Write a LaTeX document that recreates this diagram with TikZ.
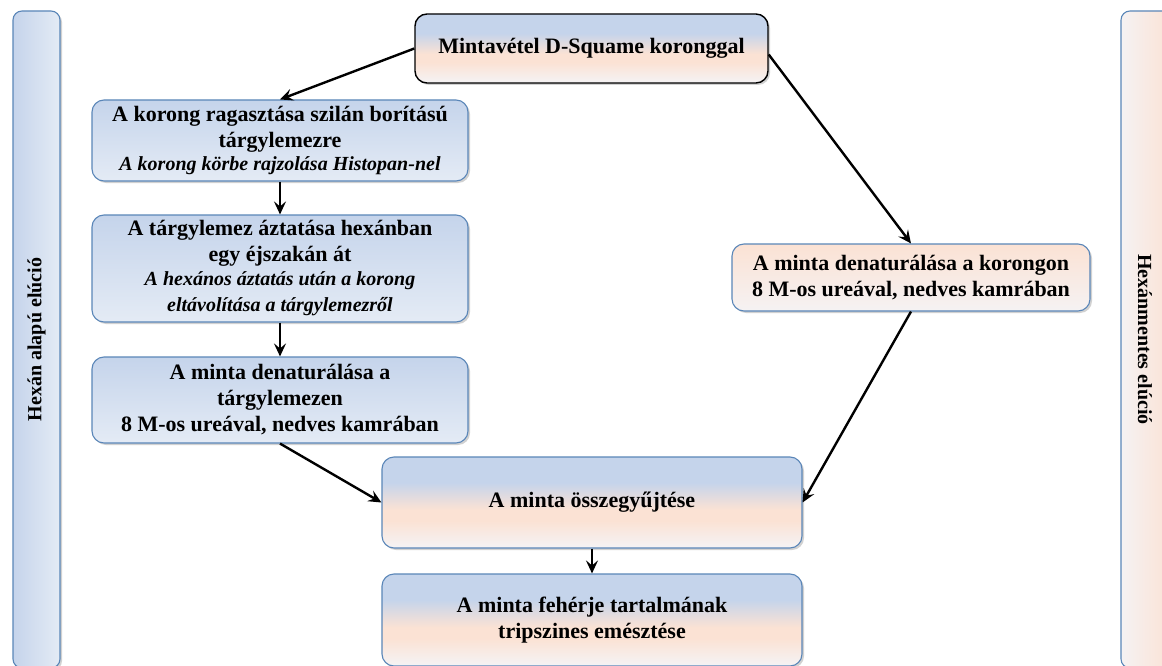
\documentclass[tikz,border=0pt]{standalone}
\usepackage{fontspec}
\setmainfont{Liberation Serif}
\usetikzlibrary{arrows.meta,shadows}
\definecolor{blu}{HTML}{C5D4EB}
\definecolor{blul}{HTML}{E4EBF5}
\definecolor{pch}{HTML}{FBE2D4}
\definecolor{wht}{HTML}{F5F2F3}
\definecolor{bord}{HTML}{5A86B8}
\newcommand\itl{\fontsize{20}{23}\selectfont\itshape}
\pgfdeclareverticalshading{tri}{100bp}{color(0bp)=(wht); color(26bp)=(wht); color(40bp)=(pch); color(46bp)=(pch); color(61bp)=(blu); color(100bp)=(blu)}
\tikzset{
  box/.style={draw=bord, line width=1.1pt, rounded corners=12pt, align=center,
    inner sep=4pt, font=\fontsize{22}{26}\selectfont\bfseries,
    drop shadow={shadow xshift=2pt, shadow yshift=-2pt, opacity=0.18, fill=black}},
  leftbox/.style={box, top color=blu, bottom color=blul},
  tribox/.style={box, shading=tri},
  rightbox/.style={box, top color=pch, bottom color=wht},
  bar/.style={draw=bord, line width=1.1pt, rounded corners=9pt,
    drop shadow={shadow xshift=2pt, shadow yshift=-2pt, opacity=0.18, fill=black}},
  bartxt/.style={font=\fontsize{20}{24}\selectfont\bfseries},
  arr/.style={-{Stealth[length=13pt,width=12pt,inset=5pt]}, line width=2.4pt, black}
}
\begin{document}
\begin{tikzpicture}[x=1pt,y=-1pt]
\useasboundingbox (0,0) rectangle (1162,666);
\fill[white] (0,0) rectangle (1162,666);
% side bars
\node[bar, left color=blu, right color=blul, minimum width=47pt, minimum height=657pt] (lbar) at (36.5,339.5) {};
\node[rotate=90, bartxt] (ltxt) at (lbar.center) {Hexán alapú elúció};
\node[bar, left color=wht, right color=pch, minimum width=51pt, minimum height=657pt] (rbar) at (1146.5,339.5) {};
\node[rotate=-90, bartxt] (rtxt) at (1145,339.5) {Hexánmentes elúció};
% boxes
\node[tribox, draw=black, line width=1.4pt, minimum width=353pt, minimum height=69pt] (top) at (591.5,48.5) {Mintavétel D-Squame koronggal};
\node[leftbox, minimum width=376pt, minimum height=81pt] (b1) at (280,140.5)
  {A korong ragasztása szilán borítású\\tárgylemezre\\[-3pt]\itl A korong körbe rajzolása Histopan-nel};
\node[leftbox, minimum width=376pt, minimum height=107pt] (b2) at (280,268.5)
  {A tárgylemez áztatása hexánban\\egy éjszakán át\\[-2pt]\itl A hexános áztatás után a korong\\\itl eltávolítása a tárgylemezről};
\node[leftbox, minimum width=376pt, minimum height=86pt] (b3) at (280,400)
  {A minta denaturálása a\\tárgylemezen\\8 M-os ureával, nedves kamrában};
\node[rightbox, minimum width=358pt, minimum height=67pt] (r1) at (911,277.5)
  {A minta denaturálása a korongon\\8 M-os ureával, nedves kamrában};
\node[tribox, minimum width=420pt, minimum height=91pt] (col) at (592,502.5) {A minta összegyűjtése};
\node[tribox, minimum width=420pt, minimum height=92pt] (fin) at (592,620)
  {A minta fehérje tartalmának\\tripszines emésztése};
% arrows
\draw[arr] (top.west) -- (b1.north);
\draw[arr] ([yshift=-6pt]top.east) -- (r1.north);
\draw[arr] (b1.south) -- (b2.north);
\draw[arr] (b2.south) -- (b3.north);
\draw[arr] (b3.south) -- (col.west);
\draw[arr] (r1.south) -- (col.east);
\draw[arr] (col.south) -- (fin.north);
\end{tikzpicture}
\end{document}
